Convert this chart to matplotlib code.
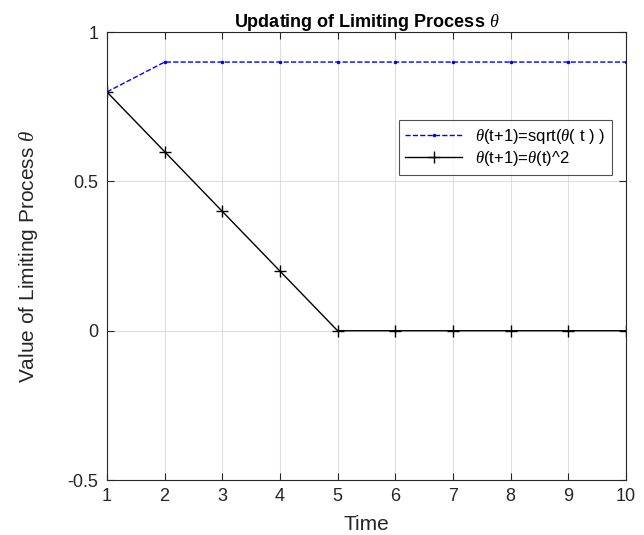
"""
Updating of limiting process theta: sqrt vs square update rules.
"""
import matplotlib
matplotlib.use("Agg")
import matplotlib.pyplot as plt

plt.rcParams["font.family"] = ["Liberation Sans", "DejaVu Sans"]
plt.rcParams["mathtext.fontset"] = "custom"
plt.rcParams["mathtext.it"] = "Liberation Serif:italic"

# Time steps and the two update sequences.
TIME = [1, 2, 3, 4, 5, 6, 7, 8, 9, 10]
THETA_SQRT = [0.8, 0.9, 0.9, 0.9, 0.9, 0.9, 0.9, 0.9, 0.9, 0.9]
THETA_SQUARE = [0.8, 0.6, 0.4, 0.2, 0.0, 0.0, 0.0, 0.0, 0.0, 0.0]

fig = plt.figure(figsize=(6.44, 5.35), dpi=100)
ax = fig.add_axes([0.166, 0.1028, 0.806, 0.837])

ax.plot(TIME, THETA_SQRT, color="blue", linestyle="--", linewidth=1.0,
        marker=".", markersize=3, label=r"$\theta$(t+1)=sqrt($\theta$( t ) )")
ax.plot(TIME, THETA_SQUARE, color="black", linestyle="-", linewidth=1.0,
        marker="+", markersize=9, markeredgewidth=1.0,
        label=r"$\theta$(t+1)=$\theta$(t)^2")

ax.set_xlim(1, 10)
ax.set_ylim(-0.5, 1)
ax.set_xticks(TIME)
ax.set_yticks([-0.5, 0, 0.5, 1])
ax.set_yticklabels(["-0.5", "0", "0.5", "1"])
ax.grid(True, color="#dedede", linewidth=0.8)
ax.set_axisbelow(True)
ax.tick_params(direction="in", top=True, right=True, labelsize=13,
               length=5, width=0.8, colors="#262626", pad=6)
for spine in ax.spines.values():
    spine.set_color("#262626")
    spine.set_linewidth(0.8)

ax.set_xlabel("Time", fontsize=15, color="#262626", labelpad=7)
ax.set_ylabel(r"Value of Limiting Process $\theta$", fontsize=15, color="#262626",
              labelpad=20)
ax.set_title(r"Updating of Limiting Process $\theta$", fontsize=13,
             fontweight="bold", color="black", pad=4)

leg = ax.legend(loc="upper right", bbox_to_anchor=(0.973, 0.804), fontsize=12,
                frameon=True, fancybox=False, edgecolor="#262626",
                borderaxespad=0, handlelength=3.4, borderpad=0.4,
                labelspacing=0.2)
leg.get_frame().set_linewidth(0.8)

fig.savefig("out.png", dpi=100)
